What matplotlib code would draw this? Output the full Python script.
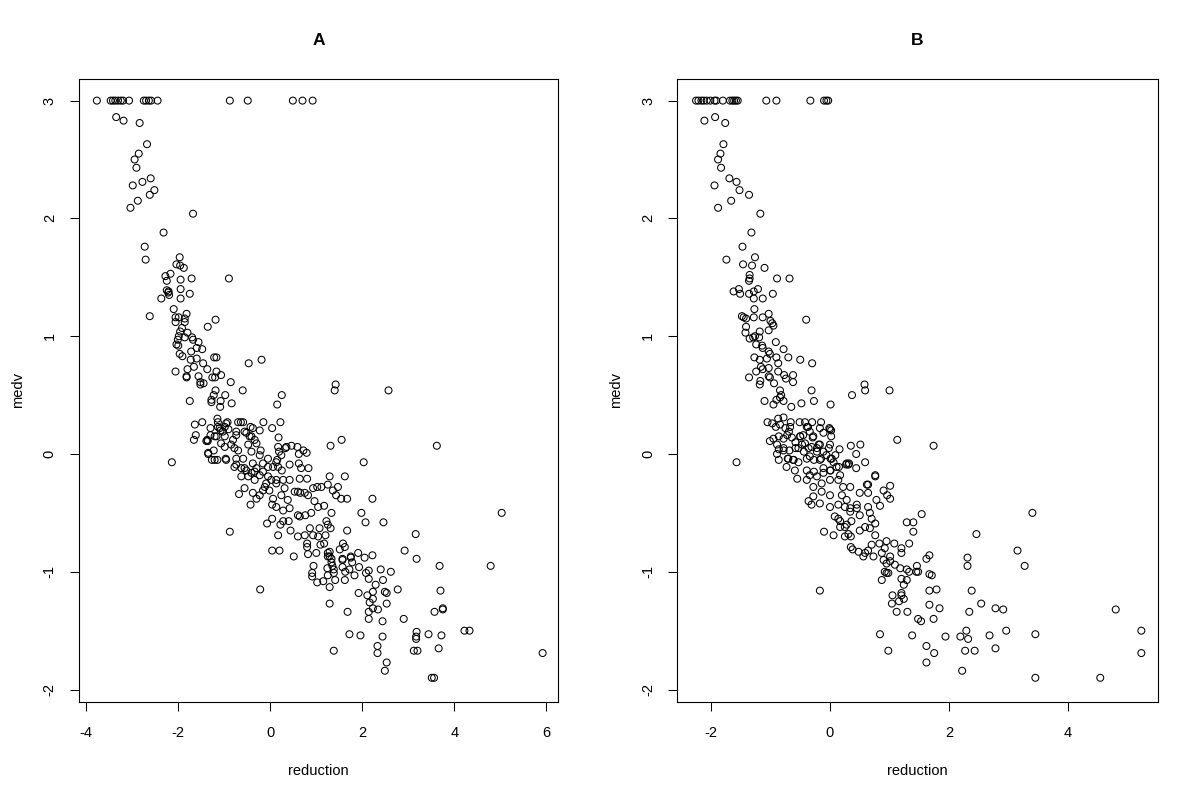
import matplotlib
matplotlib.use("Agg")
import matplotlib.pyplot as plt

plt.rcParams['font.family'] = ['Liberation Sans', 'DejaVu Sans']
plt.rcParams['axes.unicode_minus'] = False

# ---------------- Panel A data ----------------
a_reduction = [
    -3.77, -3.47, -3.42, -3.37, -3.31, -3.25, -3.20, -3.07, -2.75, -2.70,
    -2.64, -2.59, -2.45, -0.88, -0.49, 0.49, 0.70, 0.92,
    -3.35, -3.19, -2.84, -2.68, -2.86, -2.95, -2.91, -2.60, -2.78, -2.99,
    -2.52, -2.62, -2.88, -3.04, -1.68, -2.32, -2.73, -2.71, -1.97, -2.04,
    -1.96, -1.88, -2.28, -2.17, -2.25, -1.95, -1.71, -0.90, -2.25, -2.21,
    -1.95, -1.75, -2.22, -2.20, -1.95, -2.37, -2.62, -2.10, -2.06, -1.99,
    -1.82, -1.86, -2.06, -1.86, -1.19, -1.36, -1.92, -1.96, -1.80, -1.99,
    -1.86, -1.70, -1.68, -1.56, -2.01, -2.04, -2.00, -1.60, -1.48, -1.72,
    -1.97, -1.91, -1.22, -1.17, -1.60, -1.73, -1.46, -0.47, -0.19, -1.66,
    -1.80, -1.37, -2.06, -1.17, -1.82, -1.82, -1.56, -1.26, -1.20, -1.07,
    -1.52, -1.45, -1.52, -0.86, -1.19, -0.60, -1.23, -0.98, 0.25, -1.75,
    -1.28, -1.28, -1.08, -0.84, -1.09, 0.15, -1.15, -1.14, -1.48, -1.64,
    -0.93, -0.70, -0.64, -0.59, -0.15, 0.22, -1.30, -1.14, -1.08, -0.99,
    -0.43, -0.38, -0.23, 0.04, -1.62, -1.66, -1.37, -1.17, -0.74, -0.52,
    -0.41, 0.18, -1.23, -1.35, -1.27, -1.21, -1.15, -2.14, -0.97, 0.17,
    0.33, 0.46, 0.59, 0.72, 0.79, 0.62, 0.24, -0.05, 0.42, 0.62,
    0.67, 0.83, 0.15, 0.17, 0.25, -0.78, -0.56, -0.34, -0.16, -0.05,
    1.42, 1.40, 2.57, -1.10, -1.03, -0.96, -0.91, -1.30, -1.39, -1.36,
    -1.21, -0.99, -0.81, -0.74, -0.56, -0.45, -0.34, -0.85, -0.78, -0.70,
    -0.99, -1.07, -1.35, -0.96, -0.74, -0.59, -0.48, -0.41, -0.30, -0.21,
    -0.23, 0.19, 0.35, 1.31, 1.55, 2.03, -0.74, -0.63, -0.52, -0.38,
    -0.30, -0.16, 0.13, 0.06, -0.63, -0.48, -0.41, -0.34, -0.23, -0.05,
    0.02, 0.13, 0.28, 0.42, 0.64, 0.80, 1.29, 1.62, -0.68, -0.56,
    -0.43, -0.38, -0.30, -0.23, -0.16, -0.12, -0.09, -0.02, 0.06, 0.13,
    0.24, 0.31, 0.38, 0.42, 0.53, 0.60, 0.65, 0.75, 0.82, 0.93,
    1.02, 1.11, 1.25, 1.36, 1.47, 1.43, 1.54, 1.67, 2.22, 0.96,
    1.04, 1.17, 1.33, 1.98, 2.07, 2.46, 0.04, 0.13, 0.28, 0.60,
    0.64, 0.76, 0.89, 0.04, -0.07, 0.22, 0.28, 0.40, 0.44, 0.17,
    0.60, 0.75, 0.86, 0.93, 1.07, 1.04, 1.20, 1.22, 1.25, 1.31,
    1.67, -0.88, 0.80, 0.80, 1.09, 1.17, 1.58, 1.62, 1.51, 0.04,
    0.20, 0.51, 0.82, 1.00, 1.25, 1.29, 1.57, 1.75, 1.91, 2.05,
    2.22, 5.03, 3.16, 2.92, 3.18, 3.68, 4.79, 2.40, 2.62, 2.45,
    2.29, 2.77, 2.49, 2.53, 2.23, 1.92, 2.11, 2.23, 2.16, 2.53,
    3.70, 3.75, 3.75, 3.57, 2.90, 2.23, 2.34, 2.14, 2.14, 2.44,
    1.29, 1.68, 1.72, 1.96, 2.44, 3.18, 3.17, 3.17, 3.44, 3.72,
    4.22, 4.33, 1.38, 2.33, 2.33, 3.12, 3.20, 3.66, 5.92, 2.53,
    2.49, 3.51, 3.56, 0.94, 0.91, 0.91, 1.02, 1.15, 1.29, 1.24,
    1.25, 1.41, 1.33, 1.33, 1.35, 1.29, 1.25, 1.38, 1.38, 1.57,
    1.57, 1.63, 1.62, 1.72, 1.83, 1.75, 1.78, 1.93, 2.08, 2.14,
    2.14, 3.62, -0.22,
]
a_medv = [
    3.00, 3.00, 3.00, 3.00, 3.00, 3.00, 3.00, 3.00, 3.00, 3.00,
    3.00, 3.00, 3.00, 3.00, 3.00, 3.00, 3.00, 3.00,
    2.86, 2.83, 2.81, 2.63, 2.55, 2.50, 2.43, 2.34, 2.31, 2.28,
    2.24, 2.20, 2.15, 2.09, 2.04, 1.88, 1.76, 1.65, 1.67, 1.61,
    1.60, 1.58, 1.51, 1.53, 1.47, 1.48, 1.49, 1.49, 1.39, 1.38,
    1.40, 1.36, 1.37, 1.35, 1.32, 1.32, 1.17, 1.23, 1.16, 1.16,
    1.19, 1.15, 1.12, 1.12, 1.14, 1.08, 1.07, 1.04, 1.03, 1.00,
    0.99, 0.99, 0.97, 0.95, 0.97, 0.93, 0.92, 0.90, 0.89, 0.87,
    0.85, 0.83, 0.82, 0.82, 0.81, 0.80, 0.77, 0.77, 0.80, 0.74,
    0.72, 0.72, 0.70, 0.70, 0.66, 0.65, 0.66, 0.65, 0.65, 0.67,
    0.61, 0.60, 0.59, 0.61, 0.54, 0.54, 0.50, 0.50, 0.50, 0.45,
    0.46, 0.44, 0.45, 0.43, 0.40, 0.42, 0.30, 0.27, 0.27, 0.25,
    0.27, 0.27, 0.27, 0.27, 0.27, 0.27, 0.22, 0.23, 0.20, 0.23,
    0.23, 0.22, 0.20, 0.22, 0.16, 0.12, 0.12, 0.15, 0.19, 0.18,
    0.15, 0.14, 0.03, 0.00, -0.05, -0.05, -0.05, -0.07, -0.04, 0.06,
    0.05, 0.07, 0.06, 0.03, 0.01, 0.00, -0.01, -0.04, -0.09, -0.08,
    -0.12, -0.12, -0.05, -0.11, -0.14, -0.11, -0.12, -0.15, -0.15, -0.11,
    0.59, 0.54, 0.54, 0.22, 0.19, 0.26, 0.21, 0.16, 0.11, 0.11,
    0.15, 0.15, 0.12, 0.16, 0.19, 0.15, 0.12, 0.08, 0.05, 0.03,
    0.06, 0.09, 0.01, -0.05, -0.04, -0.04, 0.08, 0.02, 0.09, 0.03,
    -0.01, 0.02, 0.06, 0.07, 0.12, -0.07, -0.09, -0.12, -0.14, -0.08,
    -0.12, -0.08, -0.07, -0.11, -0.19, -0.19, -0.16, -0.22, -0.18, -0.19,
    -0.22, -0.22, -0.22, -0.22, -0.21, -0.21, -0.19, -0.19, -0.34, -0.29,
    -0.43, -0.33, -0.38, -0.35, -0.31, -0.28, -0.25, -0.31, -0.38, -0.25,
    -0.35, -0.29, -0.39, -0.46, -0.32, -0.32, -0.33, -0.33, -0.35, -0.29,
    -0.28, -0.28, -0.26, -0.31, -0.28, -0.35, -0.38, -0.38, -0.38, -0.40,
    -0.45, -0.44, -0.50, -0.50, -0.58, -0.58, -0.43, -0.45, -0.48, -0.52,
    -0.53, -0.52, -0.50, -0.55, -0.59, -0.60, -0.57, -0.57, -0.65, -0.69,
    -0.70, -0.69, -0.63, -0.69, -0.63, -0.70, -0.69, -0.57, -0.60, -0.63,
    -0.65, -0.66, -0.76, -0.79, -0.77, -0.76, -0.76, -0.79, -0.81, -0.82,
    -0.82, -0.87, -0.85, -0.84, -0.84, -0.87, -0.89, -0.87, -0.84, -0.88,
    -0.86, -0.50, -0.68, -0.82, -0.89, -0.95, -0.95, -0.98, -1.00, -1.07,
    -1.11, -1.15, -1.17, -1.18, -1.17, -1.18, -1.20, -1.23, -1.26, -1.27,
    -1.16, -1.32, -1.31, -1.34, -1.40, -1.31, -1.32, -1.34, -1.40, -1.42,
    -1.27, -1.34, -1.53, -1.54, -1.55, -1.51, -1.55, -1.57, -1.53, -1.54,
    -1.50, -1.50, -1.67, -1.63, -1.69, -1.67, -1.67, -1.65, -1.69, -1.77,
    -1.84, -1.90, -1.90, -0.95, -1.01, -1.04, -1.09, -1.08, -1.13, -0.97,
    -1.03, -1.07, -0.89, -0.92, -0.95, -0.83, -0.87, -0.98, -1.01, -0.90,
    -0.96, -1.00, -1.07, -0.98, -1.03, -0.88, -0.92, -0.96, -1.01, -0.99,
    -1.06, 0.07, -1.15,
]

# ---------------- Panel B data ----------------
b_reduction = [
    -2.25, -2.21, -2.16, -2.12, -2.07, -2.01, -1.94, -1.91, -1.80, -1.68,
    -1.64, -1.61, -1.58, -1.55, -1.07, -0.90, -0.33, -0.10, -0.06, -0.03,
    -2.11, -1.93, -1.76, -1.79, -1.84, -1.88, -1.83, -1.69, -1.57, -1.94,
    -1.52, -1.36, -1.66, -1.88, -1.17, -1.32, -1.47, -1.74, -1.26, -1.46,
    -1.31, -1.10, -1.35, -1.35, -1.36, -0.89, -0.68, -1.53, -1.62, -1.51,
    -1.28, -1.21, -1.36, -0.96, -1.28, -1.13, -1.27, -1.48, -1.45, -1.41,
    -1.28, -1.13, -1.03, -1.00, -0.97, -0.95, -0.40, -1.41, -1.42, -1.18,
    -1.03, -1.35, -1.29, -1.26, -1.19, -0.91, -0.78, -1.24, -1.14, -1.13,
    -1.03, -1.01, -1.27, -1.18, -1.06, -0.90, -0.70, -0.50, -0.30, -0.87,
    -1.24, -1.16, -1.13, -1.03, -0.87, -0.77, -0.74, -0.62, -0.62, -1.36,
    -1.17, -1.18, -1.03, -1.01, -0.94, -0.84, -0.82, -0.84, -0.31, 0.58,
    0.59, 0.37, 1.00, -1.10, -0.95, -0.90, -0.78, -0.65, -0.48, -0.27,
    0.01, 1.13, -1.57, -1.05, -0.97, -0.87, -0.78, -0.66, -0.51, -0.42,
    -0.30, -0.15, -0.91, -0.84, -0.75, -0.69, -0.67, -0.37, -0.34, -0.17,
    -0.11, -0.01, 0.02, 0.02, -1.01, -0.95, -0.86, -0.89, -0.78, -0.72,
    -0.64, -0.58, -0.50, -0.45, -0.29, -0.86, -0.78, -0.89, -0.68, -0.58,
    -0.47, -0.44, -0.36, -0.22, -0.19, -0.11, -0.02, 0.16, 0.35, 0.51,
    0.44, 0.59, -0.86, -0.71, -0.61, -0.53, -0.39, -0.27, -0.15, 0.01,
    0.09, 0.06, 0.27, 0.31, 0.44, -0.39, -0.27, -0.11, 0.01, 0.15,
    0.17, 0.76, 1.74, -0.55, 0.28, 0.32, 0.76, 0.64, 0.62, 0.90,
    1.01, 0.96, 1.01, 0.78, 0.64, 0.50, 0.84, 0.64, 0.45, 0.34,
    1.54, 1.29, 1.40, 1.40, 0.50, 0.67, 0.70, 0.76, 0.08, 0.17,
    0.25, 0.36, 0.50, 0.59, 0.67, 0.76, -0.10, 0.06, 0.25, 0.31,
    0.35, 0.83, 0.95, 1.08, 0.92, 1.20, 1.20, 1.33, 1.67, 1.62,
    0.35, 0.38, 0.48, 0.59, 0.64, 0.70, 0.56, 0.73, 0.87, 1.01,
    -0.39, -0.28, -0.50, -0.42, -0.53, -0.31, -0.17, 0.00, -0.22, -0.34,
    -0.17, -0.06, 0.03, 0.11, 0.00, -0.11, -0.22, -0.34, -0.39, -0.28,
    -0.14, 0.00, 0.14, 0.22, 0.34, 0.20, 0.28, 0.00, -0.14, -0.28,
    -0.36, -0.31, -0.17, 0.00, 0.14, 0.25, 0.34, 0.45, 0.14, 0.17,
    0.28, 0.00, -0.78, -0.70, -0.62, -0.73, -0.59, 3.40, 2.46, 3.15,
    2.31, 2.31, 3.27, 1.46, 1.45, 1.48, 1.33, 1.29, 1.18, 1.09,
    1.01, 0.95, 0.90, 0.95, 0.87, 0.92, 0.98, 1.20, 1.29, 1.24,
    1.20, 1.20, 1.67, 1.71, 1.67, 1.79, 2.38, 1.05, 1.04, 1.16,
    1.24, 1.12, 1.30, 1.67, 1.84, 1.74, 1.48, 1.53, 2.34, 2.54,
    2.78, 2.91, 4.80, 0.84, 1.38, 1.94, 2.19, 2.29, 2.32, 2.68,
    2.96, 3.45, 5.23, 0.98, 1.62, 1.75, 2.27, 2.43, 2.78, 5.23,
    1.62, 2.22, 3.45, 4.54, -0.17,
]
b_medv = [
    3.00, 3.00, 3.00, 3.00, 3.00, 3.00, 3.00, 3.00, 3.00, 3.00,
    3.00, 3.00, 3.00, 3.00, 3.00, 3.00, 3.00, 3.00, 3.00, 3.00,
    2.83, 2.86, 2.81, 2.63, 2.55, 2.50, 2.43, 2.34, 2.31, 2.28,
    2.24, 2.20, 2.15, 2.09, 2.04, 1.88, 1.76, 1.65, 1.67, 1.61,
    1.60, 1.58, 1.52, 1.49, 1.47, 1.49, 1.49, 1.40, 1.38, 1.36,
    1.38, 1.40, 1.36, 1.36, 1.32, 1.32, 1.23, 1.17, 1.16, 1.15,
    1.16, 1.16, 1.19, 1.13, 1.11, 1.09, 1.14, 1.08, 1.03, 1.04,
    1.05, 0.98, 0.99, 1.00, 0.99, 0.95, 0.89, 0.93, 0.92, 0.90,
    0.87, 0.85, 0.82, 0.80, 0.81, 0.82, 0.82, 0.80, 0.77, 0.77,
    0.70, 0.74, 0.72, 0.73, 0.70, 0.67, 0.64, 0.67, 0.61, 0.65,
    0.62, 0.59, 0.66, 0.65, 0.60, 0.54, 0.50, 0.48, 0.54, 0.59,
    0.54, 0.50, 0.54, 0.45, 0.42, 0.46, 0.45, 0.40, 0.43, 0.45,
    0.42, 0.12, -0.07, 0.27, 0.26, 0.30, 0.31, 0.27, 0.27, 0.27,
    0.27, 0.27, 0.23, 0.25, 0.22, 0.19, 0.23, 0.23, 0.19, 0.22,
    0.18, 0.22, 0.20, 0.15, 0.11, 0.13, 0.15, 0.08, 0.13, 0.16,
    0.14, 0.10, 0.15, 0.16, 0.14, 0.04, 0.05, 0.00, 0.03, 0.05,
    0.08, 0.02, 0.05, 0.05, 0.08, 0.02, 0.05, 0.04, 0.07, 0.08,
    0.00, -0.07, -0.05, -0.04, -0.05, -0.07, -0.04, -0.05, -0.04, -0.04,
    -0.01, -0.07, -0.09, -0.09, -0.12, -0.14, -0.15, -0.12, -0.14, -0.11,
    -0.18, -0.18, 0.07, -0.21, -0.08, -0.08, -0.19, -0.26, -0.26, -0.31,
    -0.27, -0.35, -0.38, -0.39, -0.33, -0.33, -0.44, -0.45, -0.43, -0.46,
    -0.51, -0.58, -0.58, -0.66, -0.52, -0.50, -0.55, -0.59, -0.53, -0.57,
    -0.62, -0.57, -0.65, -0.62, -0.63, -0.69, -0.66, -0.69, -0.70, -0.68,
    -0.70, -0.76, -0.74, -0.76, -0.80, -0.80, -0.84, -0.76, -0.86, -0.89,
    -0.79, -0.81, -0.83, -0.84, -0.82, -0.77, -0.87, -0.87, -0.84, -0.87,
    0.23, 0.15, 0.15, 0.09, 0.05, 0.06, 0.08, 0.08, 0.02, -0.02,
    -0.05, -0.01, -0.04, -0.11, -0.14, -0.16, -0.19, -0.18, -0.22, -0.28,
    -0.25, -0.22, -0.22, -0.28, -0.28, -0.35, -0.39, -0.35, -0.32, -0.36,
    -0.40, -0.43, -0.42, -0.45, -0.43, -0.45, -0.49, -0.46, -0.55, -0.62,
    -0.60, 0.21, 0.03, -0.04, -0.05, -0.11, -0.14, -0.50, -0.68, -0.82,
    -0.88, -0.95, -0.95, -0.95, -1.00, -1.00, -1.00, -0.98, -0.97, -0.94,
    -0.91, -0.93, -0.90, -1.01, -1.07, -1.00, -1.01, -1.06, -1.07, -1.11,
    -1.18, -1.20, -1.02, -1.03, -1.16, -1.15, -1.16, -1.20, -1.27, -1.25,
    -1.23, -1.34, -1.34, -1.28, -1.31, -1.40, -1.40, -1.42, -1.34, -1.27,
    -1.31, -1.32, -1.32, -1.53, -1.54, -1.55, -1.55, -1.50, -1.57, -1.54,
    -1.50, -1.53, -1.50, -1.67, -1.63, -1.69, -1.67, -1.67, -1.65, -1.69,
    -1.77, -1.84, -1.90, -1.90, -1.16,
]

panel_titles = ["A", "B"]
x_label = "reduction"
y_label = "medv"
a_xticks = [-4, -2, 0, 2, 4, 6]
b_xticks = [-2, 0, 2, 4]
y_ticks = [-2, -1, 0, 1, 2, 3]

fig = plt.figure(figsize=(12, 8), dpi=100)
ax_a = fig.add_axes([78.7 / 1200, 1 - 702.3 / 800, (558 - 78.7) / 1200, (702.3 - 78.7) / 800])
ax_b = fig.add_axes([677 / 1200, 1 - 702.3 / 800, (1158 - 677) / 1200, (702.3 - 78.7) / 800])

fs = 10.5
for ax, xs, ys, title, xt, xlim in [
    (ax_a, a_reduction, a_medv, panel_titles[0], a_xticks, (-4.165, 6.254)),
    (ax_b, b_reduction, b_medv, panel_titles[1], b_xticks, (-2.57, 5.51)),
]:
    ax.scatter(xs, ys, s=25, facecolors='none', edgecolors='black', linewidths=0.75)
    ax.set_xlim(*xlim)
    ax.set_ylim(-2.108, 3.186)
    ax.set_xticks(xt)
    ax.set_yticks(y_ticks)
    ax.set_xticklabels([str(v) for v in xt], fontsize=fs)
    ax.set_yticklabels([str(v) for v in y_ticks], fontsize=fs, rotation=90, va='center')
    ax.tick_params(axis='both', direction='out', length=6.8, width=0.75, color='black')
    ax.tick_params(axis='x', pad=10.5)
    ax.tick_params(axis='y', pad=9.0)
    for sp in ax.spines.values():
        sp.set_linewidth(0.8)
        sp.set_color('black')
    ax.set_title(title, fontsize=12.5, fontweight='bold', pad=24)
    ax.set_xlabel(x_label, fontsize=fs, labelpad=17)
    ax.set_ylabel(y_label, fontsize=fs, labelpad=13)

fig.savefig("out.png", dpi=100, facecolor='white')
